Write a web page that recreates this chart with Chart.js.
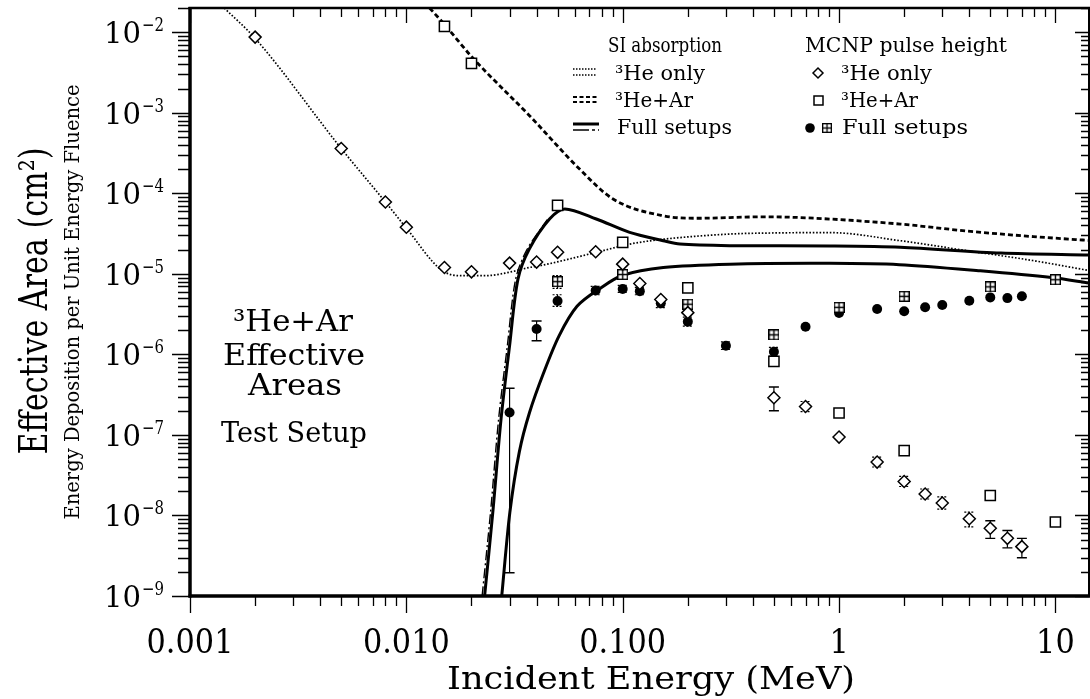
<!DOCTYPE html>
<html>
<head>
<meta charset="utf-8">
<script src="https://cdn.jsdelivr.net/npm/chart.js@4.4.1/dist/chart.umd.min.js"></script>
<style>
  html, body { margin: 0; padding: 0; background: #fff; overflow: hidden; }
  #wrap { width: 1090px; height: 699px; }
  canvas { display: block; }
</style>
</head>
<body>
<div id="wrap"><canvas id="c" width="1090" height="699"></canvas></div>
<script>
// ---- axis ticks ----
const xTickValues = [0.001, 0.01, 0.1, 1, 10];
const xTickLabels = ['0.001', '0.010', '0.100', '1', '10'];
const yTickExponents = [-9, -8, -7, -6, -5, -4, -3, -2];

// ---- MCNP pulse height: 3He only (diamonds) ----
const heOnlyE  = [0.002, 0.005, 0.008, 0.01, 0.015, 0.02, 0.03, 0.04, 0.05, 0.075, 0.1, 0.12, 0.15, 0.2, 0.5, 0.7, 1, 1.5, 2, 2.5, 3, 4, 5, 6, 7];
const heOnlyV  = [8.7e-3, 3.6e-4, 7.8e-5, 3.8e-5, 1.2e-5, 1.06e-5, 1.36e-5, 1.4e-5, 1.85e-5, 1.88e-5, 1.32e-5, 7.6e-6, 4.8e-6, 3.3e-6, 2.9e-7, 2.25e-7, 9.4e-8, 4.6e-8, 2.64e-8, 1.85e-8, 1.43e-8, 9.1e-9, 6.95e-9, 5.2e-9, 4.1e-9];
const heOnlyLo = [null, null, null, null, null, null, null, null, null, null, null, null, null, null, 2.0e-7, 1.95e-7, null, 4.0e-8, 2.29e-8, 1.6e-8, 1.2e-8, 7.2e-9, 5.2e-9, 3.96e-9, 2.98e-9];
const heOnlyHi = [null, null, null, null, null, null, null, null, null, null, null, null, null, null, 3.94e-7, 2.6e-7, null, 5.3e-8, 3.05e-8, 2.13e-8, 1.7e-8, 1.1e-8, 8.6e-9, 6.5e-9, 5.2e-9];

// ---- MCNP pulse height: 3He+Ar (open squares) ----
const heArE = [0.015, 0.02, 0.05, 0.1, 0.2, 0.5, 1, 2, 5, 10];
const heArV = [1.18e-2, 4.1e-3, 7.1e-5, 2.46e-5, 6.7e-6, 8.2e-7, 1.87e-7, 6.4e-8, 1.77e-8, 8.3e-9];

// ---- MCNP pulse height: full setups (filled circles) ----
const fullCircE  = [0.03, 0.04, 0.05, 0.075, 0.1, 0.12, 0.15, 0.2, 0.3, 0.5, 0.7, 1, 1.5, 2, 2.5, 3, 4, 5, 6, 7];
const fullCircV  = [1.9e-7, 2.07e-6, 4.6e-6, 6.2e-6, 6.5e-6, 6.1e-6, 4.3e-6, 2.55e-6, 1.28e-6, 1.08e-6, 2.2e-6, 3.27e-6, 3.66e-6, 3.43e-6, 3.84e-6, 4.1e-6, 4.64e-6, 5.1e-6, 5.0e-6, 5.26e-6];
const fullCircLo = [1.94e-9, 1.48e-6, 3.95e-6, 5.5e-6, 5.9e-6, 5.5e-6, 3.8e-6, 2.25e-6, 1.15e-6, 0.95e-6, null, null, null, null, null, null, null, null, null, null];
const fullCircHi = [3.8e-7, 2.6e-6, 5.5e-6, 7.0e-6, 7.2e-6, 6.8e-6, 4.9e-6, 2.9e-6, 1.43e-6, 1.22e-6, null, null, null, null, null, null, null, null, null, null];

// ---- MCNP pulse height: full setups (boxed crosses) ----
const fullBoxE  = [0.05, 0.1, 0.2, 0.5, 1, 2, 5, 10];
const fullBoxV  = [8.0e-6, 9.8e-6, 4.2e-6, 1.75e-6, 3.84e-6, 5.26e-6, 6.9e-6, 8.45e-6];
const fullBoxLo = [6.6e-6, 9.0e-6, 3.8e-6, null, null, null, null, null];
const fullBoxHi = [9.5e-6, 1.1e-5, 4.7e-6, null, null, null, null, null];

// ---- SI absorption curves ----
const siHeOnlyE = [0.00144, 0.002, 0.005, 0.008, 0.01, 0.0145, 0.0176, 0.0234, 0.03, 0.037, 0.0413, 0.0755, 0.1077, 0.143, 0.313, 0.5, 0.908, 1.92, 3.9, 7.9, 14.3];
const siHeOnlyV = [2.0e-2, 8.4e-3, 3.6e-4, 7.8e-5, 3.7e-5, 1.12e-5, 9.5e-6, 9.5e-6, 1.05e-5, 1.2e-5, 1.26e-5, 1.85e-5, 2.34e-5, 2.63e-5, 3.12e-5, 3.22e-5, 3.25e-5, 2.58e-5, 1.94e-5, 1.46e-5, 1.1e-5];

const siHeArE = [0.0128, 0.015, 0.02, 0.0371, 0.0632, 0.0902, 0.154, 0.219, 0.447, 0.659, 1.92, 3.9, 7.9, 14.3];
const siHeArV = [2.0e-2, 1.25e-2, 5.0e-3, 9.2e-4, 2.0e-4, 8.5e-5, 5.26e-5, 4.9e-5, 5.1e-5, 5.0e-5, 4.15e-5, 3.4e-5, 2.9e-5, 2.6e-5];

const siFullAE = [0.023, 0.0251, 0.0274, 0.030, 0.0328, 0.037, 0.0459, 0.054, 0.0755, 0.1077, 0.154, 0.184, 0.313, 0.908, 1.92, 5.6, 14.3];
const siFullAV = [1e-9, 1.1e-8, 1.58e-7, 1.28e-6, 8.6e-6, 2.03e-5, 4.8e-5, 6.4e-5, 4.8e-5, 3.27e-5, 2.58e-5, 2.34e-5, 2.24e-5, 2.22e-5, 2.14e-5, 1.81e-5, 1.71e-5];

const siFullAltE = [0.0224, 0.0245, 0.0267, 0.0293, 0.032, 0.0361, 0.0448];
const siFullAltV = [1e-9, 1.1e-8, 1.58e-7, 1.28e-6, 8.6e-6, 2.0e-5, 4.7e-5];

const siFullBE = [0.0276, 0.0301, 0.0333, 0.0371, 0.0432, 0.0508, 0.0615, 0.0786, 0.1, 0.154, 0.313, 0.908, 1.9, 4.5, 9.6, 14.3];
const siFullBV = [1e-9, 1.1e-8, 6.2e-8, 1.9e-7, 6.0e-7, 1.7e-6, 3.95e-6, 6.6e-6, 9.6e-6, 1.2e-5, 1.32e-5, 1.35e-5, 1.3e-5, 1.09e-5, 9.0e-6, 7.7e-6];

const X_MIN = 0.001, X_MAX = 14.3, Y_MIN = 1e-9, Y_MAX = 2e-2;
const FONT = '"DejaVu Serif", "Liberation Serif", serif';

const pts = (xs, ys) => xs.map((x, i) => ({ x, y: ys[i] }));

// boxed-cross marker (square with a cross inside)
function makeBoxCross(size) {
  const c = document.createElement('canvas');
  c.width = c.height = size;
  const g = c.getContext('2d');
  g.fillStyle = '#fff';
  g.fillRect(0, 0, size, size);
  g.strokeStyle = '#000';
  g.lineWidth = 1.4;
  g.strokeRect(0.7, 0.7, size - 1.4, size - 1.4);
  g.beginPath();
  g.moveTo(size / 2, 0.7); g.lineTo(size / 2, size - 0.7);
  g.moveTo(0.7, size / 2); g.lineTo(size - 0.7, size / 2);
  g.stroke();
  return c;
}
const boxCross = makeBoxCross(11);

// text helper: optional horizontal squeeze to a given width
function text(ctx, s, x, y, size, o = {}) {
  ctx.save();
  ctx.font = `${o.italic ? 'italic ' : ''}${size}px ${FONT}`;
  ctx.fillStyle = '#000';
  ctx.textBaseline = 'alphabetic';
  const w = ctx.measureText(s).width;
  const sx = o.width ? o.width / w : (o.sx || 1);
  ctx.translate(x, y);
  if (o.rot) ctx.rotate(o.rot);
  ctx.scale(sx, 1);
  const a = o.align || 'left';
  const ox = a === 'center' ? -w / 2 : a === 'right' ? -w : 0;
  ctx.fillText(s, ox, 0);
  ctx.restore();
}

function logTicks(min, max) {
  const out = [];
  for (let e = Math.floor(Math.log10(min)); e <= Math.ceil(Math.log10(max)); e++) {
    for (let m = 1; m <= 9; m++) {
      const v = m * Math.pow(10, e);
      if (v >= min * 0.999 && v <= max * 1.001) out.push({ v, major: m === 1 });
    }
  }
  return out;
}

// error bars for the MCNP points
const errorBars = {
  id: 'errorBars',
  beforeDatasetsDraw(chart) {
    const { ctx } = chart;
    const xs = chart.scales.x, ys = chart.scales.y;
    const sets = [
      [heOnlyE, heOnlyLo, heOnlyHi],
      [fullCircE, fullCircLo, fullCircHi],
      [fullBoxE, fullBoxLo, fullBoxHi]
    ];
    ctx.save();
    ctx.strokeStyle = '#000';
    ctx.beginPath();
    ctx.rect(chart.chartArea.left, chart.chartArea.top, chart.chartArea.right - chart.chartArea.left, chart.chartArea.bottom - chart.chartArea.top);
    ctx.clip();
    sets.forEach(([E, lo, hi]) => {
      E.forEach((e, i) => {
        if (lo[i] == null) return;
        const px = xs.getPixelForValue(e);
        const y1 = ys.getPixelForValue(hi[i]);
        const y2 = ys.getPixelForValue(lo[i]);
        const short = (y2 - y1) < 16;
        ctx.lineWidth = short ? 1.2 : 1.4;
        ctx.setLineDash(short ? [2, 1.5] : []);
        ctx.beginPath();
        ctx.moveTo(px - 5, y1); ctx.lineTo(px + 5, y1);
        ctx.moveTo(px - 5, y2); ctx.lineTo(px + 5, y2);
        ctx.stroke();
        ctx.setLineDash([]);
        ctx.lineWidth = 1.2;
        ctx.beginPath();
        ctx.moveTo(px, y1); ctx.lineTo(px, y2);
        ctx.stroke();
      });
    });
    ctx.restore();
  }
};

// frame, ticks, labels, legend and annotation
const decorations = {
  id: 'decorations',
  afterDatasetsDraw(chart) {
    const { ctx, chartArea: ca } = chart;
    const xs = chart.scales.x, ys = chart.scales.y;
    ctx.save();
    ctx.strokeStyle = '#000';
    ctx.lineCap = 'butt';

    // ticks
    ctx.lineWidth = 1.3;
    ctx.beginPath();
    logTicks(X_MIN, X_MAX).forEach(t => {
      const px = Math.round(xs.getPixelForValue(t.v)) + 0.5;
      ctx.moveTo(px, ca.bottom); ctx.lineTo(px, ca.bottom + (t.major ? 17 : 10));
      ctx.moveTo(px, ca.top); ctx.lineTo(px, ca.top + (t.major ? 15 : 9));
    });
    logTicks(Y_MIN, Y_MAX).forEach(t => {
      const py = Math.round(ys.getPixelForValue(t.v)) + 0.5;
      ctx.moveTo(ca.left, py); ctx.lineTo(ca.left - (t.major ? 18 : 12), py);
      ctx.moveTo(ca.right, py); ctx.lineTo(ca.right - (t.major ? 14 : 8), py);
    });
    ctx.stroke();

    // frame
    ctx.lineWidth = 3.5;
    ctx.beginPath();
    ctx.moveTo(ca.left, ca.top - 1); ctx.lineTo(ca.left, ca.bottom + 1.5);
    ctx.stroke();
    ctx.beginPath();
    ctx.moveTo(ca.left - 1.5, ca.bottom); ctx.lineTo(ca.right + 1, ca.bottom);
    ctx.stroke();
    ctx.lineWidth = 2.6;
    ctx.beginPath();
    ctx.moveTo(ca.left - 1.5, ca.top); ctx.lineTo(ca.right + 1, ca.top);
    ctx.stroke();
    ctx.lineWidth = 2;
    ctx.beginPath();
    ctx.moveTo(ca.right, ca.top); ctx.lineTo(ca.right, ca.bottom);
    ctx.stroke();

    // x tick labels
    xTickValues.forEach((v, i) => {
      text(ctx, xTickLabels[i], xs.getPixelForValue(v), 653, 33, { align: 'center', sx: 0.92 });
    });
    // y tick labels: 10 with a superscript exponent
    yTickExponents.forEach(e => {
      const py = ys.getPixelForValue(Math.pow(10, e));
      text(ctx, '10', 141, py + 11, 30, { align: 'right', width: 37 });
      text(ctx, '\u2212' + Math.abs(e), 142, py - 1, 19, { width: 22 });
    });

    // axis titles
    text(ctx, 'Incident Energy (MeV)', 651, 689, 31, { align: 'center', width: 408 });
    text(ctx, 'Effective Area (cm\u00B2)', 47, 301, 40, { align: 'center', width: 307, rot: -Math.PI / 2 });
    text(ctx, 'Energy Deposition per Unit Energy Fluence', 79, 302, 20, { align: 'center', width: 435, rot: -Math.PI / 2 });

    // annotation
    text(ctx, '\u00B3He+Ar', 293, 331, 30, { align: 'center', width: 120 });
    text(ctx, 'Effective', 294, 365, 30, { align: 'center', width: 142 });
    text(ctx, 'Areas', 295, 395, 30, { align: 'center', width: 94 });
    text(ctx, 'Test Setup', 294, 442, 27, { align: 'center', width: 146 });

    // legend: SI absorption
    text(ctx, 'SI absorption', 608, 52, 21, { width: 114 });
    text(ctx, '\u00B3He only', 615, 80, 21, { width: 90 });
    text(ctx, '\u00B3He+Ar', 615, 107, 21, { width: 78 });
    text(ctx, 'Full setups', 617, 134, 21, { width: 115 });
    ctx.lineWidth = 1.6;
    ctx.setLineDash([1.5, 1.5]);
    ctx.beginPath();
    ctx.moveTo(573, 69); ctx.lineTo(597, 69);
    ctx.moveTo(573, 75); ctx.lineTo(597, 75);
    ctx.stroke();
    ctx.lineWidth = 2.2;
    ctx.setLineDash([4, 2.5]);
    ctx.beginPath();
    ctx.moveTo(573, 97); ctx.lineTo(597, 97);
    ctx.moveTo(573, 102); ctx.lineTo(597, 102);
    ctx.stroke();
    ctx.setLineDash([]);
    ctx.lineWidth = 3;
    ctx.beginPath();
    ctx.moveTo(573, 124); ctx.lineTo(599, 124);
    ctx.stroke();
    ctx.lineWidth = 1.4;
    ctx.setLineDash([16, 3, 3, 3]);
    ctx.beginPath();
    ctx.moveTo(573, 130); ctx.lineTo(599, 130);
    ctx.stroke();
    ctx.setLineDash([]);

    // legend: MCNP pulse height
    text(ctx, 'MCNP pulse height', 805, 52, 21, { width: 202 });
    text(ctx, '\u00B3He only', 841, 80, 21, { width: 91 });
    text(ctx, '\u00B3He+Ar', 841, 107, 21, { width: 77 });
    text(ctx, 'Full setups', 842, 134, 21, { width: 126 });
    ctx.lineWidth = 1.5;
    ctx.fillStyle = '#fff';
    ctx.beginPath();
    ctx.moveTo(818 - 5, 73); ctx.lineTo(818, 68); ctx.lineTo(818 + 5, 73); ctx.lineTo(818, 78); ctx.closePath();
    ctx.fill(); ctx.stroke();
    ctx.beginPath();
    ctx.rect(814, 96, 9, 9);
    ctx.fill(); ctx.stroke();
    ctx.fillStyle = '#000';
    ctx.beginPath();
    ctx.arc(810, 128, 4.8, 0, Math.PI * 2);
    ctx.fill();
    ctx.drawImage(boxCross, 822, 123, 10, 10);

    ctx.restore();
  }
};

const curveBase = { showLine: true, pointRadius: 0, borderColor: '#000', order: 2 };
const smooth = { cubicInterpolationMode: 'monotone' };
const spline = { tension: 0.3 };
const markBase = { showLine: false, borderColor: '#000', order: 1 };

new Chart(document.getElementById('c'), {
  type: 'scatter',
  data: {
    datasets: [
      Object.assign({}, curveBase, smooth, { label: 'SI 3He only', data: pts(siHeOnlyE, siHeOnlyV), borderWidth: 1.7, borderDash: [1.6, 1.8] }),
      Object.assign({}, curveBase, smooth, { label: 'SI 3He+Ar', data: pts(siHeArE, siHeArV), borderWidth: 2.8, borderDash: [5, 3] }),
      Object.assign({}, curveBase, spline, { label: 'SI full setup A', data: pts(siFullAE, siFullAV), borderWidth: 3 }),
      Object.assign({}, curveBase, spline, { label: 'SI full setup A (alt)', data: pts(siFullAltE, siFullAltV), borderWidth: 1.4, borderDash: [10, 3, 2, 3] }),
      Object.assign({}, curveBase, spline, { label: 'SI full setup B', data: pts(siFullBE, siFullBV), borderWidth: 3 }),
      Object.assign({}, markBase, { label: 'MCNP 3He only', data: pts(heOnlyE, heOnlyV), pointStyle: 'rectRot', pointRadius: 6, borderWidth: 1.5, backgroundColor: '#fff' }),
      Object.assign({}, markBase, { label: 'MCNP 3He+Ar', data: pts(heArE, heArV), pointStyle: 'rect', pointRadius: 7.2, borderWidth: 1.5, backgroundColor: '#fff' }),
      Object.assign({}, markBase, { label: 'MCNP full (box)', data: pts(fullBoxE, fullBoxV), pointStyle: boxCross, pointRadius: 5.5 }),
      Object.assign({}, markBase, { label: 'MCNP full (circle)', data: pts(fullCircE, fullCircV), pointStyle: 'circle', pointRadius: 5, borderWidth: 0, backgroundColor: '#000' })
    ]
  },
  options: {
    responsive: false,
    animation: false,
    layout: { autoPadding: false, padding: { left: 190, right: 1, top: 8, bottom: 103 } },
    plugins: { legend: { display: false }, tooltip: { enabled: false } },
    scales: {
      x: { type: 'logarithmic', min: X_MIN, max: X_MAX, display: false },
      y: { type: 'logarithmic', min: Y_MIN, max: Y_MAX, display: false }
    }
  },
  plugins: [errorBars, decorations]
});
</script>
</body>
</html>
